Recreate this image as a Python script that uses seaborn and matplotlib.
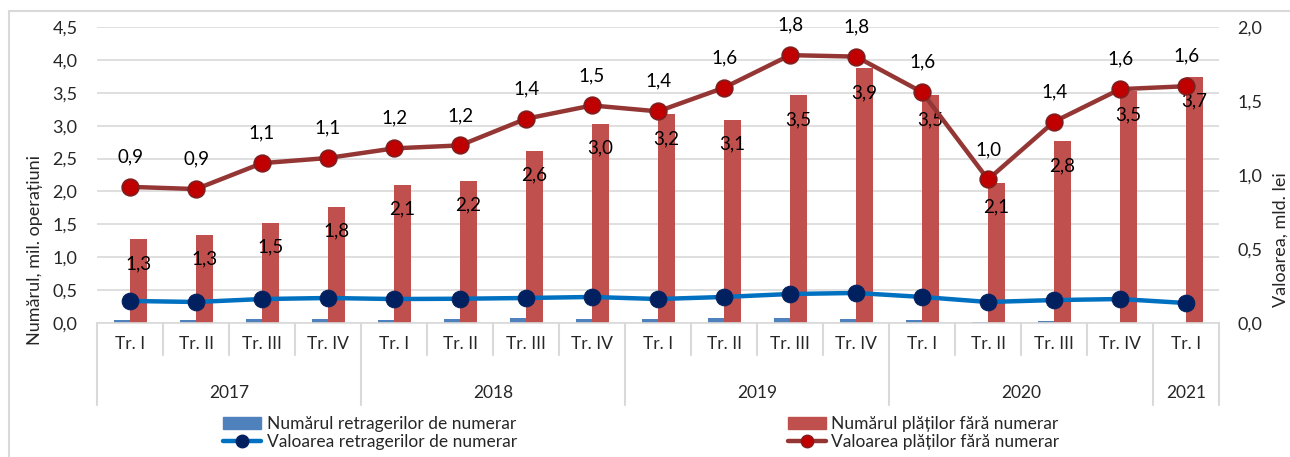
import numpy as np
import pandas as pd
import seaborn as sns
import matplotlib.pyplot as plt
from matplotlib.lines import Line2D
from matplotlib.patches import Patch
import matplotlib.transforms as mtransforms

# data
quarters = ['Tr. I', 'Tr. II', 'Tr. III', 'Tr. IV',
            'Tr. I', 'Tr. II', 'Tr. III', 'Tr. IV',
            'Tr. I', 'Tr. II', 'Tr. III', 'Tr. IV',
            'Tr. I', 'Tr. II', 'Tr. III', 'Tr. IV',
            'Tr. I']
years = ['2017', '2018', '2019', '2020', '2021']
year_sizes = [4, 4, 4, 4, 1]

# left axis, mil. operatiuni
nr_retrageri = [0.05, 0.05, 0.06, 0.06, 0.05, 0.06, 0.07, 0.06,
                0.06, 0.07, 0.07, 0.06, 0.05, 0.02, 0.03, 0.0, 0.0]
nr_plati = [1.27, 1.34, 1.52, 1.77, 2.10, 2.16, 2.61, 3.02,
            3.17, 3.09, 3.46, 3.87, 3.46, 2.13, 2.76, 3.53, 3.74]
# right axis, mld. lei
val_retrageri = [0.149, 0.142, 0.162, 0.169, 0.162, 0.164, 0.169, 0.176,
                 0.162, 0.176, 0.196, 0.203, 0.176, 0.142, 0.155, 0.162, 0.135]
val_plati = [0.92, 0.905, 1.08, 1.115, 1.18, 1.20, 1.38, 1.47,
             1.43, 1.59, 1.81, 1.80, 1.56, 0.97, 1.36, 1.58, 1.60]

lbl_bar = 'Numărul retragerilor de numerar'
lbl_bar2 = 'Numărul plăților fără numerar'
lbl_line = 'Valoarea retragerilor de numerar'
lbl_line2 = 'Valoarea plăților fără numerar'

c_blue_bar = '#4F81BD'
c_red_bar = '#C0504D'
c_blue_line = '#0070C0'
c_blue_mark = '#002060'
c_red_line = '#943634'
c_red_mark = '#C00000'
grid_c = '#D9D9D9'

sns.set_theme(style='white')
plt.rcParams['font.family'] = ['Lato', 'DejaVu Sans']


def fmt(v):
    return f'{v:.1f}'.replace('.', ',')


n = len(quarters)
idx = np.arange(n)
bars = pd.DataFrame({
    'pos': np.concatenate([idx, idx]),
    'val': nr_retrageri + nr_plati,
    'serie': [lbl_bar] * n + [lbl_bar2] * n,
})

fig = plt.figure(figsize=(12.9, 4.57), dpi=100)
ax = fig.add_axes([0.0752, 0.2932, 0.8698, 0.6477])

sns.barplot(data=bars, x='pos', y='val', hue='serie', ax=ax,
            palette=[c_blue_bar, c_red_bar], width=0.5, legend=False,
            saturation=1, linewidth=0)
ax.set_ylim(0, 4.5)
ax.set_xlim(-0.5, n - 0.5)
ax.set_yticks(np.arange(0, 4.51, 0.5))
ax.set_yticklabels([fmt(v) for v in np.arange(0, 4.51, 0.5)], fontsize=13)
ax.yaxis.grid(True, color=grid_c, linewidth=1.2)
ax.set_axisbelow(True)
for s in ['top', 'right', 'left']:
    ax.spines[s].set_visible(False)
ax.spines['bottom'].set_color(grid_c)
ax.spines['bottom'].set_linewidth(1.2)
ax.tick_params(axis='y', length=0, pad=14)
ax.set_xlabel('')
ax.set_ylabel('')

# labels on red bars (inside end)
red_bars = ax.containers[1]
for rect, v in zip(red_bars, nr_plati):
    ax.annotate(fmt(v), (rect.get_x() + rect.get_width() / 2, rect.get_height()),
                xytext=(0, -24), textcoords='offset pixels',
                ha='center', va='center', fontsize=13.5, color='black')

# quarter and year axis
ax.set_xticks(idx)
ax.set_xticklabels(quarters, fontsize=12.5)
ax.tick_params(axis='x', length=0, pad=9)
trans = mtransforms.blended_transform_factory(ax.transData, ax.transAxes)
start = 0
bounds = [0]
for sz in year_sizes:
    start += sz
    bounds.append(start)
for b in range(n + 1):
    x = b - 0.5
    y_end = -0.277 if b in bounds else -0.108
    ax.plot([x, x], [0, y_end], color=grid_c, lw=1.5, transform=trans,
            clip_on=False)
for yr, a, b in zip(years, bounds[:-1], bounds[1:]):
    ax.text((a + b - 1) / 2, -0.235, yr, transform=trans, ha='center',
            va='center', fontsize=12.5)

# right axis lines
ax2 = ax.twinx()
lines = pd.DataFrame({'pos': idx, 'retr': val_retrageri, 'plati': val_plati})
sns.lineplot(data=lines, x='pos', y='retr', ax=ax2, color=c_blue_line,
             lw=3.2, marker='o', markersize=12, markerfacecolor=c_blue_mark,
             markeredgecolor=c_blue_mark, zorder=5)
sns.lineplot(data=lines, x='pos', y='plati', ax=ax2, color=c_red_line,
             lw=3.2, marker='o', markersize=12, markerfacecolor=c_red_mark,
             markeredgecolor='#7F1F1F', markeredgewidth=1.2, zorder=5)
for x, v in zip(idx, val_plati):
    ax2.annotate(fmt(v), (x, v), xytext=(0, 30), textcoords='offset pixels',
                 ha='center', va='center', fontsize=13.5, color='black')
ax2.set_ylim(0, 2.0)
ax2.set_yticks(np.arange(0, 2.01, 0.5))
ax2.set_yticklabels([fmt(v) for v in np.arange(0, 2.01, 0.5)], fontsize=13)
ax2.tick_params(axis='y', length=0, pad=13)
for s in ['top', 'right', 'left', 'bottom']:
    ax2.spines[s].set_visible(False)
ax2.set_xlabel('')
ax2.set_ylabel('')
ax2.grid(False)

fig.text(0.027, 1 - 250 / 457, 'Numărul, mil. operațiuni', rotation=90,
         ha='center', va='center', fontsize=13)
fig.text(0.993, 1 - 240 / 457, 'Valoarea, mld. lei', rotation=90,
         ha='center', va='center', fontsize=13)

# chart frame
fig.patches.append(plt.Rectangle((9 / 1290, -0.1), 1.2, 1 - 11 / 457 + 0.1,
                                 transform=fig.transFigure, fill=False,
                                 edgecolor=grid_c, lw=1.5))

handles = [Patch(color=c_blue_bar),
           Line2D([], [], color=c_blue_line, lw=3.2, marker='o', markersize=9,
                  markerfacecolor=c_blue_mark, markeredgecolor=c_blue_mark),
           Patch(color=c_red_bar),
           Line2D([], [], color=c_red_line, lw=3.2, marker='o', markersize=9,
                  markerfacecolor=c_red_mark, markeredgecolor='#7F1F1F')]
fig.legend(handles, [lbl_bar, lbl_line, lbl_bar2, lbl_line2], ncol=2,
           loc='center', bbox_to_anchor=(0.497, 1 - 433 / 457), frameon=False,
           columnspacing=15.6, handlelength=2.2, handletextpad=0.3,
           labelspacing=0.1, prop={'family': ['Lato', 'DejaVu Sans'], 'size': 12.5})

fig.savefig('out.png', dpi=100)
